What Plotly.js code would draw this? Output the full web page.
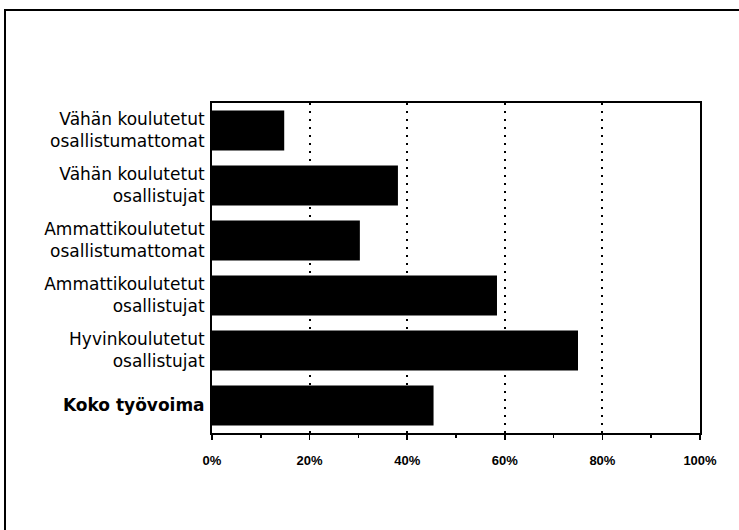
<!DOCTYPE html>
<html>
<head>
<meta charset="utf-8">
<script src="https://cdn.plot.ly/plotly-3.0.1.min.js"></script>
<style>
  body { margin: 0; background: #fff; }
  #wrap { position: relative; width: 739px; height: 530px; }
  #frame { position: absolute; left: 4px; top: 9px; right: 0; bottom: 0;
           border-left: 2px solid #000; border-top: 2px solid #000; pointer-events: none; }
</style>
</head>
<body>
<div id="wrap">
  <div id="chart" style="width:739px;height:530px;"></div>
  <div id="frame"></div>
</div>
<script>
// groups, top to bottom
var groups = [
  'Vähän koulutetut<br>osallistumattomat',
  'Vähän koulutetut<br>osallistujat',
  'Ammattikoulutetut<br>osallistumattomat',
  'Ammattikoulutetut<br>osallistujat',
  'Hyvinkoulutetut<br>osallistujat',
  '<b>Koko työvoima</b>'
];
// share, percent
var shares = [14.8, 38.1, 30.3, 58.4, 75.0, 45.4];

var xTicks = [0, 20, 40, 60, 80, 100];

var bars = {
  type: 'bar',
  orientation: 'h',
  x: shares,
  y: groups,
  marker: {color: '#000'},
  hoverinfo: 'x+y'
};

var layout = {
  width: 739,
  height: 530,
  margin: {l: 212, r: 39, t: 103, b: 97},
  paper_bgcolor: '#fff',
  plot_bgcolor: '#fff',
  showlegend: false,
  bargap: 0.27,
  font: {family: 'Liberation Sans, Arial, sans-serif', color: '#000'},
  xaxis: {
    range: [0, 100],
    tickvals: xTicks,
    ticktext: xTicks.map(function (v) { return '<b>' + v + '%</b>'; }),
    tickfont: {size: 13},
    ticks: 'outside',
    ticklen: 5,
    tickwidth: 1.5,
    tickcolor: '#000',
    ticklabelstandoff: 9,
    minor: {dtick: 10, ticks: 'outside', ticklen: 3, tickcolor: '#000', showgrid: false},
    showgrid: true,
    gridcolor: '#000',
    gridwidth: 2,
    griddash: '2px,6px',
    showline: true,
    linecolor: '#000',
    linewidth: 2,
    mirror: true,
    zeroline: false,
    fixedrange: true
  },
  yaxis: {
    autorange: 'reversed',
    tickfont: {family: 'DejaVu Sans, sans-serif', size: 17},
    ticks: '',
    ticklabelstandoff: 2,
    showline: true,
    linecolor: '#000',
    linewidth: 2,
    mirror: true,
    showgrid: false,
    fixedrange: true
  }
};

Plotly.newPlot('chart', [bars], layout, {displayModeBar: false, staticPlot: true});
</script>
</body>
</html>
